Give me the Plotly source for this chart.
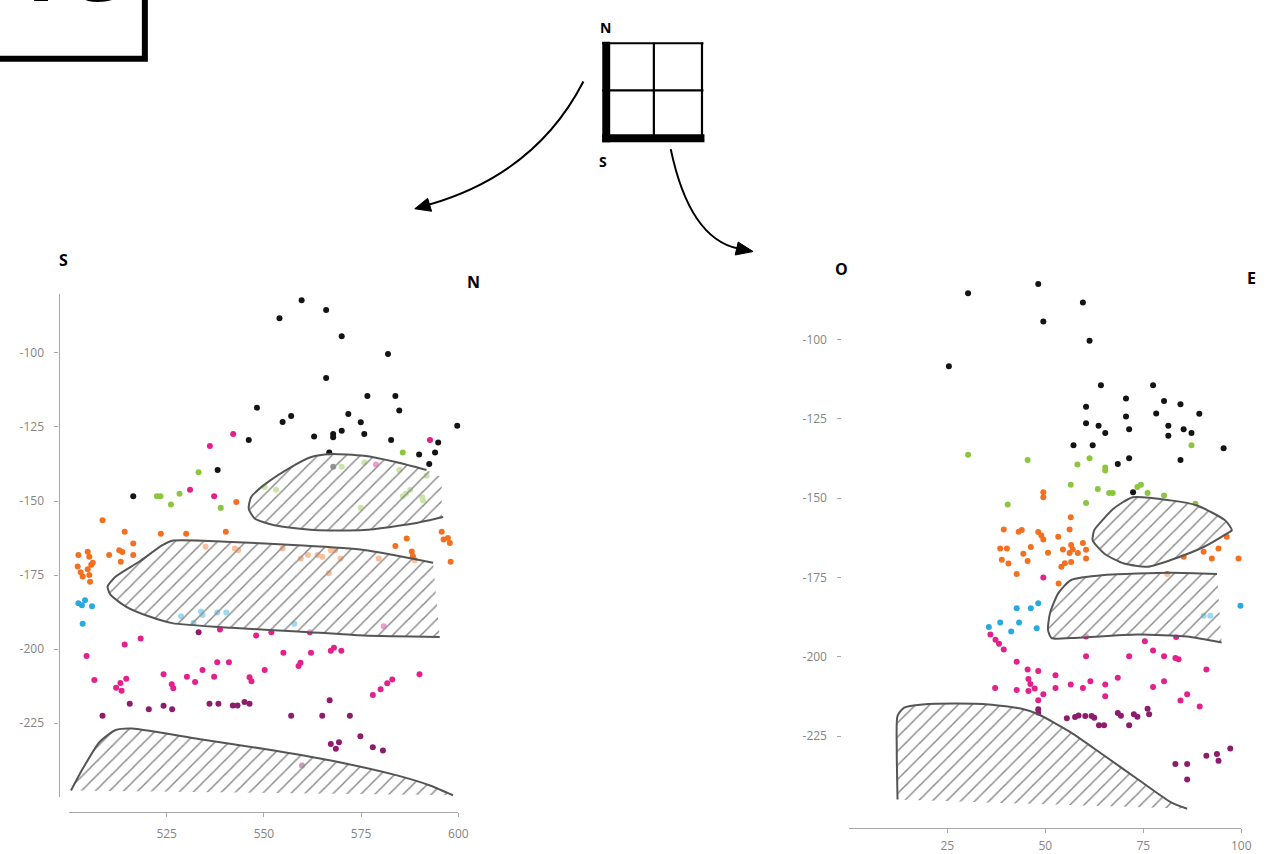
import plotly.graph_objects as go

W, H = 1282, 854

# ---------------- Left panel (section S - N) ----------------
L_black_x = [559.7, 566.0, 554.0, 570.0, 581.9, 566.0, 576.6, 583.8, 584.8, 548.2, 571.7, 557.0, 554.8, 574.9, 599.7,
             546.1, 562.9, 567.8, 567.8, 570.0, 575.8, 582.7, 594.8, 594.0, 589.9, 592.5, 566.8, 567.8, 538.1, 516.4]
L_black_y = [-82.2, -85.5, -88.3, -94.4, -100.4, -108.5, -114.5, -114.5, -119.4, -118.5, -120.6, -121.3, -123.3, -123.4, -124.6,
             -129.4, -128.2, -127.4, -128.5, -126.3, -127.4, -129.4, -130.2, -133.6, -134.3, -137.5, -133.6, -138.4, -139.5, -148.4]

L_green_x = [585.7, 570.0, 575.8, 584.8, 591.8, 533.2, 522.5, 523.4, 528.3, 526.1, 538.9, 574.9, 553.1, 550.2, 587.6,
             585.7, 590.7, 586.5, 590.9]
L_green_y = [-133.6, -138.4, -137.0, -139.5, -141.5, -140.3, -148.4, -148.4, -147.5, -151.2, -152.3, -152.3, -146.2, -145.3, -146.2,
             -148.4, -148.7, -147.5, -149.8]

L_orange_x = [542.9, 508.5, 514.2, 523.5, 530.0, 540.2, 595.7, 597.3, 597.8, 596.2, 598.0, 586.7, 583.8, 588.0, 588.3,
              588.8, 579.5, 567.2, 568.3, 563.8, 565.0, 561.3, 559.5, 569.7, 566.7, 554.8, 543.4, 542.5, 535.0, 512.8,
              513.6, 510.2, 516.4, 516.4, 513.2, 502.3, 502.1, 504.7, 505.1, 505.6, 506.0, 504.7, 505.1, 503.4, 505.3, 502.9]
L_orange_y = [-150.3, -156.5, -160.4, -161.0, -161.0, -160.4, -160.4, -162.5, -164.2, -163.0, -170.5, -162.6, -165.2, -167.0, -168.6,
              -170.0, -169.4, -166.6, -166.6, -168.2, -168.8, -168.2, -169.4, -169.4, -174.4, -166.0, -166.6, -166.0, -165.4, -166.6,
              -167.2, -168.2, -164.3, -168.2, -170.5, -168.2, -172.1, -167.1, -168.8, -171.5, -170.8, -173.0, -175.0, -175.5, -177.2, -174.0]

L_cyan_x = [502.3, 503.2, 504.0, 505.8, 503.4, 528.7, 531.9, 533.8, 534.2, 538.0, 540.3, 557.8]
L_cyan_y = [-184.5, -185.2, -183.5, -185.5, -191.4, -188.9, -191.1, -187.3, -188.5, -187.6, -187.6, -191.4]

L_pink_x = [542.1, 536.1, 531.0, 537.2, 592.7, 578.8, 538.7, 548.0, 551.9, 561.8, 580.8, 514.2, 518.3, 504.4, 506.4,
            512.0, 513.1, 514.6, 513.4, 524.2, 526.3, 526.7, 530.2, 532.3, 534.2, 537.2, 538.0, 541.0, 546.3, 546.8,
            550.2, 555.0, 558.9, 559.4, 562.1, 567.2, 568.0, 569.9, 590.0, 578.0, 580.0, 581.7, 583.0]
L_pink_y = [-127.4, -131.4, -146.2, -148.4, -129.4, -137.7, -193.4, -195.4, -194.3, -194.3, -192.3, -198.4, -196.4, -202.3, -210.4,
            -213.0, -211.4, -210.0, -214.0, -208.5, -211.8, -213.2, -209.3, -211.1, -207.0, -209.3, -204.4, -204.4, -209.5, -210.8,
            -207.0, -201.2, -205.7, -204.6, -201.2, -200.5, -199.5, -200.5, -208.5, -215.5, -213.5, -211.5, -210.2]

L_purple_x = [533.2, 515.5, 520.4, 524.2, 526.4, 508.5, 536.0, 538.3, 542.0, 543.2, 545.0, 546.3, 557.0, 565.0, 566.9,
              572.1, 574.8, 567.2, 568.5, 569.3, 578.0, 580.6, 559.8]
L_purple_y = [-194.3, -218.4, -220.3, -219.1, -220.3, -222.5, -218.4, -218.4, -219.0, -219.0, -217.8, -218.4, -222.5, -222.5, -217.2,
              -222.5, -229.4, -232.0, -233.6, -231.4, -233.1, -234.2, -239.3]

# hatched bodies (left)
LA_x = [591.8, 584.2, 575.7, 567.1, 562.0, 556.9, 550.3, 546.7, 546.1, 547.6, 552.7, 562.9, 575.7, 588.4, 596.1]
LA_y = [-139.5, -136.9, -134.7, -134.1, -135.2, -138.6, -144.3, -148.7, -152.6, -155.9, -158.2, -159.8, -159.8, -157.6, -155.4]
LA_fill_x = [595.7, 595.7]
LA_fill_y = [-155.4, -142.0]

LB_x = [593.5, 575.7, 558.7, 541.7, 526.4, 523.9, 517.9, 511.9, 509.8, 510.6, 514.5, 520.4, 526.4, 541.7, 558.7, 575.7, 595.2]
LB_y = [-170.8, -166.5, -164.9, -163.8, -163.4, -164.9, -170.5, -175.5, -178.9, -181.7, -185.6, -188.9, -191.2, -192.8, -194.0, -195.4, -195.9]

LC_x = [500.4, 503.4, 507.7, 511.9, 516.1, 533.2, 550.2, 567.2, 584.2, 592.7, 598.6]
LC_y = [-247.7, -240.4, -231.4, -227.3, -226.8, -230.3, -233.7, -237.6, -242.6, -246.0, -249.3]

# ---------------- Right panel (section O - E) ----------------
R_black_x = [30.3, 48.2, 59.6, 49.5, 61.3, 25.4, 64.2, 77.5, 70.6, 80.3, 84.5, 60.4, 78.3, 89.3, 70.6,
             60.4, 63.6, 65.3, 71.4, 81.4, 81.4, 85.3, 87.3, 57.2, 62.1, 95.5, 71.4, 68.5, 84.5, 72.4]
R_black_y = [-85.4, -82.5, -88.3, -94.3, -100.4, -108.4, -114.4, -114.4, -118.6, -119.4, -120.4, -121.2, -123.3, -123.4, -124.3,
             -126.4, -127.2, -129.5, -128.3, -127.2, -130.3, -128.3, -129.5, -133.3, -133.3, -134.3, -137.4, -139.2, -138.0, -148.1]

R_green_x = [30.3, 45.5, 58.2, 61.3, 65.3, 65.3, 56.5, 63.4, 66.3, 67.2, 73.5, 74.4, 76.1, 80.3, 87.3, 88.3, 60.4, 40.4]
R_green_y = [-136.3, -138.0, -139.4, -137.4, -140.3, -141.3, -145.8, -147.1, -148.4, -148.4, -146.5, -145.8, -148.4, -149.2,
             -133.3, -151.8, -151.5, -152.0]

R_orange_x = [56.5, 49.5, 49.5, 39.4, 43.2, 44.0, 48.2, 49.0, 49.5, 53.3, 56.2, 59.6, 56.6, 57.0, 56.2, 58.3, 60.4, 60.4,
              54.5, 50.7, 46.3, 44.4, 38.5, 40.2, 38.9, 40.6, 42.7, 45.5, 54.1, 55.0, 56.6, 53.4, 81.1, 85.3, 90.4, 92.5,
              94.2, 99.3, 96.3]
R_orange_y = [-156.0, -148.1, -149.7, -159.9, -160.6, -160.0, -160.7, -161.8, -163.0, -162.2, -159.9, -164.1, -164.8, -166.2,
              -167.3, -167.3, -166.3, -169.0, -166.2, -167.2, -165.4, -167.5, -165.9, -165.9, -169.4, -170.6, -173.9, -169.8,
              -171.6, -170.5, -170.1, -176.9, -173.9, -168.5, -166.9, -169.0, -165.9, -169.0, -162.2]

R_cyan_x = [42.7, 46.3, 48.2, 38.5, 43.3, 35.6, 41.3, 47.8, 90.4, 92.1, 99.8]
R_cyan_y = [-184.7, -184.7, -183.1, -189.2, -189.2, -190.6, -192.0, -191.0, -187.1, -187.1, -183.9]

R_pink_x = [36.0, 37.3, 38.2, 39.4, 49.5, 60.4, 83.4, 75.4, 60.4, 71.4, 77.5, 80.3, 83.2, 84.0, 91.1, 42.7, 45.5, 48.2,
            45.7, 46.2, 47.3, 52.6, 52.6, 37.2, 42.7, 45.7, 49.5, 48.2, 56.5, 59.6, 61.5, 65.3, 65.3, 68.5, 77.5, 80.3,
            84.5, 86.2, 89.4]
R_pink_y = [-193.0, -194.6, -195.9, -197.7, -175.0, -193.6, -193.8, -195.1, -199.8, -199.8, -198.0, -199.8, -200.4, -200.8,
            -204.0, -201.6, -204.0, -204.5, -207.0, -208.6, -210.0, -205.8, -209.8, -209.8, -210.5, -210.8, -211.8, -213.7,
            -208.7, -209.8, -207.7, -208.7, -212.4, -206.6, -209.5, -207.7, -213.8, -211.8, -215.7]

R_purple_x = [48.2, 48.2, 55.5, 57.6, 58.5, 60.2, 61.8, 62.5, 63.7, 65.0, 68.5, 69.3, 71.4, 72.6, 73.5, 76.1, 76.5,
              83.2, 86.2, 86.2, 91.1, 93.8, 94.2, 97.2]
R_purple_y = [-216.5, -217.7, -219.4, -219.0, -218.5, -218.7, -218.7, -219.2, -221.6, -221.6, -217.7, -218.6, -221.6,
              -218.1, -218.9, -216.4, -218.1, -233.8, -233.8, -238.7, -231.2, -230.6, -232.8, -228.9]

# hatched bodies (right)
RD_x = [72.3, 82.0, 88.7, 95.9, 97.6, 96.3, 90.4, 82.0, 76.1, 70.1, 65.1, 62.1, 62.5, 64.2, 67.3, 72.3]
RD_y = [-149.7, -150.7, -152.3, -157.0, -160.1, -161.2, -165.4, -169.5, -171.6, -170.6, -167.5, -163.3, -160.1, -157.5, -153.4, -149.7]

RE_x = [93.8, 82.0, 65.1, 56.6, 53.3, 51.2, 50.7, 51.6, 56.6, 73.5, 86.2, 95.0]
RE_y = [-173.9, -173.5, -174.2, -175.8, -180.0, -186.3, -191.5, -194.1, -194.1, -193.0, -193.6, -195.5]

RF_x = [12.3, 12.1, 12.3, 14.0, 18.7, 27.1, 35.6, 44.0, 48.2, 56.6, 65.1, 73.5, 82.0, 86.2]
RF_y = [-245.0, -229.1, -218.6, -216.0, -215.0, -214.7, -215.0, -216.4, -218.1, -223.9, -231.2, -238.5, -245.8, -247.9]

# tick labels
L_xticks = [525, 550, 575, 600]
R_xticks = [25, 50, 75, 100]
Y_ticks = [-100, -125, -150, -175, -200, -225]
Y_ticktext = ["-100", "-125", "-150", "-175", "-200", "-225"]

COLORS = {"black": "#141414", "green": "#8cc63f", "orange": "#f37021", "cyan": "#27a9e1",
          "pink": "#e3208b", "purple": "#8d1c6c"}


def fx(p):
    return p / W


def fy(p):
    return 1 - p / H


fig = go.Figure()

series_L = [("black", L_black_x, L_black_y), ("green", L_green_x, L_green_y), ("orange", L_orange_x, L_orange_y),
            ("cyan", L_cyan_x, L_cyan_y), ("pink", L_pink_x, L_pink_y), ("purple", L_purple_x, L_purple_y)]
series_R = [("black", R_black_x, R_black_y), ("green", R_green_x, R_green_y), ("orange", R_orange_x, R_orange_y),
            ("cyan", R_cyan_x, R_cyan_y), ("pink", R_pink_x, R_pink_y), ("purple", R_purple_x, R_purple_y)]

for name, xs, ys in series_L:
    fig.add_trace(go.Scatter(x=xs, y=ys, mode="markers", marker=dict(size=6, color=COLORS[name]),
                             xaxis="x", yaxis="y", cliponaxis=False, showlegend=False, name=name))
for name, xs, ys in series_R:
    fig.add_trace(go.Scatter(x=xs, y=ys, mode="markers", marker=dict(size=6, color=COLORS[name]),
                             xaxis="x2", yaxis="y2", cliponaxis=False, showlegend=False, name=name))

# hatched bodies drawn over the points (semi-transparent, points show through faded)
HATCH = dict(shape="/", size=10, solidity=0.15, fgcolor="#8a8a8a", bgcolor="rgba(255,255,255,0.55)", fillmode="replace")


def hatch(xs, ys, xa, ya, extra_x=(), extra_y=()):
    fig.add_trace(go.Scatter(x=list(xs) + list(extra_x), y=list(ys) + list(extra_y), mode="lines",
                             fill="toself", fillcolor="rgba(255,255,255,0.55)", fillpattern=HATCH,
                             line=dict(width=0, color="rgba(0,0,0,0)"),
                             xaxis=xa, yaxis=ya, hoverinfo="skip", showlegend=False))
    fig.add_trace(go.Scatter(x=xs, y=ys, mode="lines", line=dict(color="#555555", width=2, shape="spline", smoothing=0.6),
                             xaxis=xa, yaxis=ya, hoverinfo="skip", showlegend=False))


hatch(LA_x, LA_y, "x", "y", LA_fill_x, LA_fill_y)
hatch(LB_x, LB_y, "x", "y")
hatch(LC_x, LC_y, "x", "y")
hatch(RD_x, RD_y, "x2", "y2")
hatch(RE_x, RE_y, "x2", "y2")
hatch(RF_x, RF_y, "x2", "y2")

TICKFONT = dict(family="Open Sans, sans-serif", size=12, color="#858585")
axis_common = dict(showgrid=False, zeroline=False, ticks="outside", ticklen=4, tickcolor="#a8a8a8",
                   tickwidth=1, linecolor="#a8a8a8", linewidth=1.2, tickfont=TICKFONT)

fig.update_layout(
    width=W, height=H, margin=dict(l=0, r=0, t=0, b=0),
    paper_bgcolor="white", plot_bgcolor="rgba(0,0,0,0)", showlegend=False,
    xaxis=dict(domain=[fx(70), fx(462)], range=[500, 600], anchor="free", position=fy(817),
               showline=True, tickvals=L_xticks, ticklabelstandoff=6, **axis_common),
    yaxis=dict(domain=[fy(802), fy(295.4)], range=[-250, -80], anchor="free", position=fx(59),
               showline=True, tickvals=Y_ticks, ticktext=Y_ticktext, ticklabelstandoff=8, **axis_common),
    xaxis2=dict(domain=[fx(856), fx(1251)], range=[0, 100], anchor="free", position=fy(833),
                showline=True, tickvals=R_xticks, ticklabelstandoff=2, **axis_common),
    yaxis2=dict(domain=[fy(833), fy(277.7)], range=[-254, -80], anchor="free", position=fx(848),
                showline=False, tickvals=Y_ticks, ticktext=Y_ticktext, ticklabelstandoff=8, **axis_common),
)

LBL = dict(family="Open Sans, DejaVu Sans, sans-serif", size=16, color="black", weight="bold")
for txt, x, y in [("S", 57, 248), ("N", 477, 271), ("O", 848, 258), ("E", 1268, 267)]:
    fig.add_annotation(text=txt, x=fx(x), y=fy(y), xref="paper", yref="paper", showarrow=False, font=LBL)
for txt, x, y in [("N", 610, 16), ("S", 608, 151)]:
    fig.add_annotation(text=txt, x=fx(x), y=fy(y), xref="paper", yref="paper", showarrow=False,
                       font=dict(LBL, size=14))

# panel badge (cropped at top of the figure)
fig.add_shape(type="rect", xref="paper", yref="paper", x0=fx(-10), x1=fx(146), y0=fy(59), y1=fy(-30),
              line=dict(color="black", width=6), fillcolor="white", layer="below")
fig.add_annotation(text="1C", x=fx(8), y=fy(30), xref="paper", yref="paper", xanchor="left", yanchor="bottom",
                   showarrow=False, font=dict(family="Open Sans, DejaVu Sans, sans-serif", size=92, color="black",
                                              weight="bold"))

# compass grid
ln = dict(color="black", width=2.2)
for (x0, y0, x1, y1) in [(607, 43.5, 709, 43.5), (707.5, 43, 707.5, 140), (659, 43, 659, 140), (607, 91, 709, 91)]:
    fig.add_shape(type="line", xref="paper", yref="paper", x0=fx(x0), y0=fy(y0), x1=fx(x1), y1=fy(y1), line=ln)
for (x0, y0, x1, y1) in [(607, 42, 615, 143), (607, 135, 710, 143)]:
    fig.add_shape(type="rect", xref="paper", yref="paper", x0=fx(x0), y0=fy(y0), x1=fx(x1), y1=fy(y1),
                  line=dict(width=0), fillcolor="black")


def P(x, y):
    return f"{fx(x):.5f},{fy(y):.5f}"


# curved arrows
fig.add_shape(type="path", xref="paper", yref="paper",
              path=f"M {P(588, 82)} Q {P(540, 175)} {P(432, 206)}", line=dict(color="black", width=2))
fig.add_shape(type="path", xref="paper", yref="paper",
              path=f"M {P(418, 210)} L {P(435, 212.5)} L {P(431, 199.5)} Z", line=dict(color="black", width=1),
              fillcolor="black")
fig.add_shape(type="path", xref="paper", yref="paper",
              path=f"M {P(676, 150)} Q {P(695, 240)} {P(744, 250)}", line=dict(color="black", width=2))
fig.add_shape(type="path", xref="paper", yref="paper",
              path=f"M {P(759, 253)} L {P(741, 256.5)} L {P(744, 243.5)} Z", line=dict(color="black", width=1),
              fillcolor="black")

fig.write_html("out.html", config={"displayModeBar": False},
               post_script="document.body.style.margin='0';document.body.style.overflow='hidden';")
